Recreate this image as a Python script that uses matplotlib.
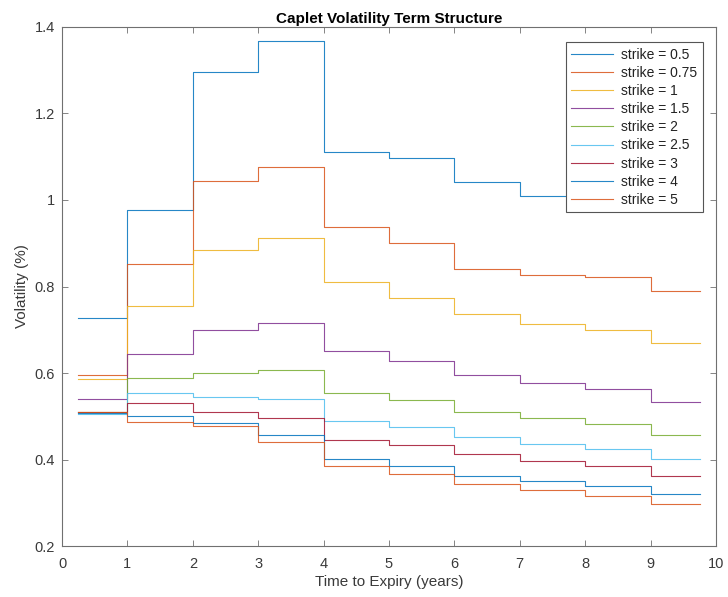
import numpy as np
import matplotlib.pyplot as plt

plt.rcParams['font.family'] = ['Liberation Sans', 'DejaVu Sans']

# caplet reset times (years); last point closes the final step
times = [0.25, 1, 2, 3, 4, 5, 6, 7, 8, 9, 9.75]
strikes = ['0.5', '0.75', '1', '1.5', '2', '2.5', '3', '4', '5']

vol_050 = [0.727, 0.978, 1.295, 1.367, 1.111, 1.097, 1.042, 1.009, 0.998, 0.982]
vol_075 = [0.595, 0.851, 1.044, 1.077, 0.938, 0.900, 0.841, 0.826, 0.823, 0.789]
vol_100 = [0.586, 0.755, 0.884, 0.911, 0.810, 0.774, 0.736, 0.713, 0.700, 0.669]
vol_150 = [0.541, 0.644, 0.700, 0.716, 0.652, 0.628, 0.595, 0.576, 0.564, 0.534]
vol_200 = [0.509, 0.588, 0.600, 0.607, 0.554, 0.538, 0.511, 0.496, 0.481, 0.456]
vol_250 = [0.506, 0.554, 0.544, 0.539, 0.489, 0.475, 0.453, 0.437, 0.424, 0.402]
vol_300 = [0.511, 0.530, 0.511, 0.497, 0.446, 0.434, 0.412, 0.397, 0.386, 0.363]
vol_400 = [0.507, 0.500, 0.484, 0.456, 0.401, 0.385, 0.363, 0.350, 0.338, 0.320]
vol_500 = [0.510, 0.486, 0.478, 0.440, 0.385, 0.366, 0.343, 0.329, 0.315, 0.297]

vols = [vol_050, vol_075, vol_100, vol_150, vol_200, vol_250, vol_300, vol_400, vol_500]

# matlab default line colours
colors = ['#0072BD', '#D95319', '#EDB120', '#7E2F8E', '#77AC30',
          '#4DBEEE', '#A2142F', '#0072BD', '#D95319']

fig = plt.figure(figsize=(7.28, 5.97), dpi=100)
ax = fig.add_axes([0.0852, 0.0854, 0.8983, 0.8694])

for k, v, c in zip(strikes, vols, colors):
    y = v + [v[-1]]
    ax.step(times, y, where='post', color=c, lw=0.8, alpha=0.85,
            label='strike = ' + k)

ax.set_xlim(0, 10)
ax.set_ylim(0.2, 1.4)
ax.set_xticks(range(0, 11))
ax.set_yticks([0.2, 0.4, 0.6, 0.8, 1.0, 1.2, 1.4])
ax.set_yticklabels(['0.2', '0.4', '0.6', '0.8', '1', '1.2', '1.4'])

axis_col = '#707070'
for s in ax.spines.values():
    s.set_color(axis_col)
    s.set_linewidth(0.8)
ax.tick_params(direction='in', length=4, width=0.6, color=axis_col,
               labelcolor='#3a3a3a', labelsize=10.5, top=True, right=True)
ax.tick_params(axis='x', pad=8)
ax.tick_params(axis='y', pad=5)

ax.set_title('Caplet Volatility Term Structure', fontsize=11, fontweight='bold', pad=3)
ax.set_xlabel('Time to Expiry (years)', fontsize=11, color='#3a3a3a', labelpad=3)
ax.set_ylabel('Volatility (%)', fontsize=11, color='#3a3a3a', labelpad=4)

leg = ax.legend(loc='upper right', bbox_to_anchor=(0.980, 0.971), borderaxespad=0,
                fontsize=10, fancybox=False, framealpha=1, edgecolor='#555555',
                handlelength=3.0, handletextpad=0.6, labelspacing=0.3,
                borderpad=0.4)
leg.get_frame().set_linewidth(0.8)
for t in leg.get_texts():
    t.set_color('#222222')

fig.savefig('out.png', dpi=100)
